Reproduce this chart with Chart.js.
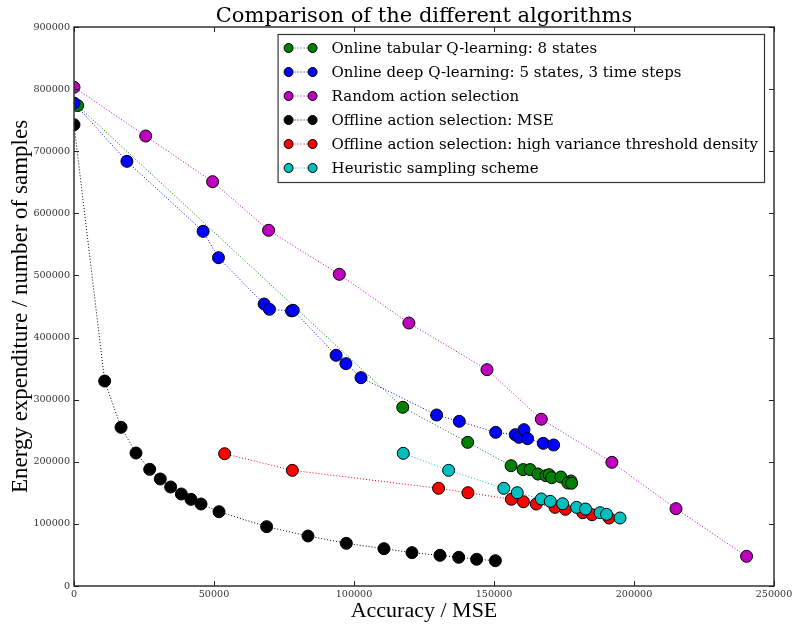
<!DOCTYPE html>
<html>
<head>
<meta charset="utf-8">
<script src="https://cdn.jsdelivr.net/npm/chart.js@4/dist/chart.umd.min.js"></script>
<style>
  html, body { margin: 0; padding: 0; background: #fff; }
  #wrap { width: 793px; height: 628px; }
</style>
</head>
<body>
<div id="wrap"><canvas id="c" width="793" height="628"></canvas></div>
<script>
// ---- data ----
const seriesNames = [
  "Online tabular Q-learning: 8 states",
  "Online deep Q-learning: 5 states, 3 time steps",
  "Random action selection",
  "Offline action selection: MSE",
  "Offline action selection: high variance threshold density",
  "Heuristic sampling scheme"
];
const tabularX = [1300, 117400, 140600, 156100, 160400, 162900, 165700, 168500, 169700, 170600, 173900, 177500, 176400, 177700];
const tabularY = [773500, 287700, 231300, 193700, 187400, 187400, 180300, 177600, 179200, 174400, 175500, 169100, 165800, 165400];
const deepX = [0, 18900, 46100, 51600, 67900, 69800, 77700, 78300, 93600, 97100, 102500, 129500, 137600, 150600, 157600, 158900, 160700, 162000, 167600, 171300];
const deepY = [777500, 683700, 571000, 528600, 454000, 445500, 442900, 443800, 371400, 358000, 335400, 275300, 265100, 247400, 243600, 239400, 251700, 237200, 229700, 227000];
const randomX = [0, 25600, 49500, 69500, 94750, 119600, 147500, 166900, 192100, 215000, 240200];
const randomY = [803000, 724500, 651000, 572700, 501800, 423400, 348300, 268500, 199100, 124500, 47800];
const mseX = [0, 10950, 16800, 22140, 27030, 30820, 34520, 38330, 41790, 45360, 51790, 68800, 83570, 97260, 110700, 120700, 130700, 137400, 143800, 150500];
const mseY = [742700, 330000, 255500, 214100, 187800, 172300, 159400, 148100, 139500, 132000, 119600, 95500, 80500, 68700, 60100, 53700, 49400, 46200, 43000, 40800];
const hvtdX = [53800, 77980, 130200, 140700, 156200, 160500, 165100, 171800, 175500, 181700, 185000, 191100];
const hvtdY = [213000, 186200, 157300, 150200, 139600, 135700, 132000, 126600, 123500, 118000, 114800, 109500];
const heurX = [117600, 133800, 153500, 158300, 166900, 170100, 174500, 179500, 182700, 187900, 190200, 195000];
const heurY = [213600, 186200, 157300, 150200, 140100, 136300, 132500, 126600, 123900, 118000, 115400, 109500];
const xTicks = [0, 50000, 100000, 150000, 200000, 250000];
const yTicks = [0, 100000, 200000, 300000, 400000, 500000, 600000, 700000, 800000, 900000];
const seriesColors = ["#008000", "#0000ff", "#bf00bf", "#000000", "#ff0000", "#00bfbf"];
const titleText = "Comparison of the different algorithms";
const xTitle = "Accuracy / MSE";
const yTitle = "Energy expenditure / number of samples";

const SERIF = "'Liberation Serif', 'Times New Roman', serif";
const WIDESERIF = "'DejaVu Serif', serif";

function pts(xs, ys) { return xs.map((x, i) => ({ x: x, y: ys[i] })); }
const allX = [tabularX, deepX, randomX, mseX, hvtdX, heurX];
const allY = [tabularY, deepY, randomY, mseY, hvtdY, heurY];

const datasets = seriesNames.map((name, i) => ({
  label: name,
  data: pts(allX[i], allY[i]),
  showLine: true,
  borderColor: seriesColors[i],
  borderWidth: 1,
  borderDash: [1, 2],
  backgroundColor: seriesColors[i],
  pointBackgroundColor: seriesColors[i],
  pointBorderColor: "#000",
  pointBorderWidth: 1,
  pointRadius: 6,
  pointHoverRadius: 6,
  tension: 0,
  clip: 0,
  order: 6 - i
}));

const decorPlugin = {
  id: "decor",
  afterDraw(chart) {
    const ctx = chart.ctx;
    const a = chart.chartArea;
    const xs = chart.scales.x, ys = chart.scales.y;
    ctx.save();
    // spines
    ctx.strokeStyle = "#333";
    ctx.lineWidth = 1.5;
    ctx.strokeRect(a.left, a.top, a.right - a.left, a.bottom - a.top);
    // inward ticks on all four sides
    ctx.lineWidth = 1;
    ctx.strokeStyle = "#222";
    const L = 5;
    ctx.beginPath();
    xTicks.forEach(v => {
      const px = Math.round(xs.getPixelForValue(v)) + 0.5;
      ctx.moveTo(px, a.bottom); ctx.lineTo(px, a.bottom - L);
      ctx.moveTo(px, a.top); ctx.lineTo(px, a.top + L);
    });
    yTicks.forEach(v => {
      const py = Math.round(ys.getPixelForValue(v)) + 0.5;
      ctx.moveTo(a.left, py); ctx.lineTo(a.left + L, py);
      ctx.moveTo(a.right, py); ctx.lineTo(a.right - L, py);
    });
    ctx.stroke();

    // title
    ctx.fillStyle = "#000";
    ctx.font = "21px " + WIDESERIF;
    ctx.textAlign = "center";
    ctx.textBaseline = "alphabetic";
    ctx.fillText(titleText, (a.left + a.right) / 2, 22);

    // legend (matplotlib style: two markers joined by the line)
    ctx.font = "15px " + WIDESERIF;
    let maxW = 0;
    seriesNames.forEach(n => { maxW = Math.max(maxW, ctx.measureText(n).width); });
    const boxRight = a.right - 10;
    const boxTop = a.top + 7;
    const rowH = 24;
    const boxW = maxW + 60;
    const boxLeft = boxRight - boxW;
    const boxH = rowH * seriesNames.length + 4;
    ctx.fillStyle = "#fff";
    ctx.fillRect(boxLeft, boxTop, boxW, boxH);
    ctx.strokeStyle = "#333";
    ctx.lineWidth = 1.2;
    ctx.strokeRect(boxLeft + 0.5, boxTop + 0.5, boxW, boxH);
    seriesNames.forEach((n, i) => {
      const cy = boxTop + 14 + i * rowH;
      const m1 = boxLeft + 11, m2 = boxLeft + 35;
      ctx.save();
      ctx.strokeStyle = seriesColors[i];
      ctx.lineWidth = 1;
      ctx.setLineDash([1, 2]);
      ctx.beginPath(); ctx.moveTo(m1, cy); ctx.lineTo(m2, cy); ctx.stroke();
      ctx.restore();
      [m1, m2].forEach(mx => {
        ctx.beginPath();
        ctx.arc(mx, cy, 4.5, 0, Math.PI * 2);
        ctx.fillStyle = seriesColors[i];
        ctx.fill();
        ctx.strokeStyle = "#000";
        ctx.lineWidth = 1;
        ctx.stroke();
      });
      ctx.fillStyle = "#000";
      ctx.textAlign = "left";
      ctx.textBaseline = "middle";
      ctx.fillText(n, boxLeft + 54, cy + 1);
    });
    ctx.restore();
  }
};

new Chart(document.getElementById("c"), {
  type: "scatter",
  data: { datasets: datasets },
  options: {
    responsive: false,
    animation: false,
    devicePixelRatio: 1,
    layout: { padding: { top: 27, right: 19, left: 0, bottom: 0 } },
    plugins: {
      legend: { display: false },
      title: { display: false },
      tooltip: { enabled: false }
    },
    scales: {
      x: {
        type: "linear",
        min: 0, max: 250000,
        afterBuildTicks: s => { s.ticks = xTicks.map(v => ({ value: v })); },
        afterFit: s => { s.height = 42; s.paddingRight = 0; s.paddingLeft = 0; },
        grid: { display: false, drawTicks: false },
        border: { display: false },
        ticks: {
          padding: 3,
          color: "#333",
          font: { family: WIDESERIF, size: 9.6 },
          maxRotation: 0,
          callback: v => String(v)
        },
        title: {
          display: true,
          text: xTitle,
          color: "#000",
          font: { family: SERIF, size: 22 },
          padding: { top: 0, bottom: 4 }
        }
      },
      y: {
        type: "linear",
        min: 0, max: 900000,
        afterBuildTicks: s => { s.ticks = yTicks.map(v => ({ value: v })); },
        afterFit: s => { s.width = 74; s.paddingTop = 0; s.paddingBottom = 0; },
        grid: { display: false, drawTicks: false },
        border: { display: false },
        ticks: {
          padding: 4,
          color: "#333",
          font: { family: WIDESERIF, size: 9.6 },
          callback: v => String(v)
        },
        title: {
          display: true,
          text: yTitle,
          color: "#000",
          font: { family: SERIF, size: 23 },
          padding: { top: 7, bottom: 0 }
        }
      }
    }
  },
  plugins: [decorPlugin]
});
</script>
</body>
</html>
